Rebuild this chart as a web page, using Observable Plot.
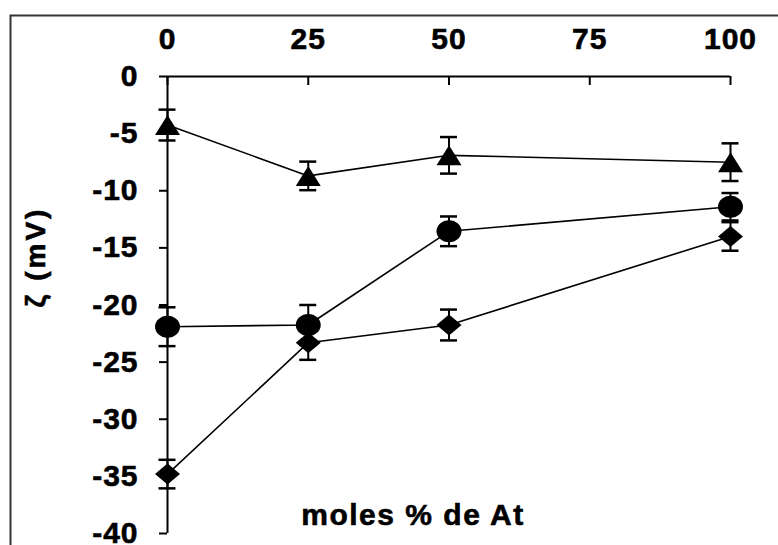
<!DOCTYPE html>
<html><head><meta charset="utf-8">
<script src="https://cdn.jsdelivr.net/npm/d3@7"></script>
<script src="https://cdn.jsdelivr.net/npm/@observablehq/plot@0.6"></script>
<style>body{margin:0;background:#fff}</style>
</head><body><div id="chart"></div>
<script>
const xValues = [0, 25, 50, 100];
const xTicks = [0, 25, 50, 75, 100];
const yTicks = [0, -5, -10, -15, -20, -25, -30, -35, -40];
const triangleValues = [-4.25, -8.7, -6.9, -7.5];
const triangleErrors = [1.35, 1.25, 1.6, 1.65];
const circleValues = [-21.9, -21.75, -13.55, -11.4];
const circleErrors = [1.7, 1.75, 1.3, 1.2];
const diamondValues = [-34.8, -23.3, -21.75, -14.0];
const diamondErrors = [1.25, 1.5, 1.35, 1.25];
const xLabel = "moles % de At";
const yLabel = "ζ (mV)";

const triangleSym = {draw(c) { c.moveTo(0, -10); c.lineTo(12.5, 10); c.lineTo(-12.5, 10); c.closePath(); }};
const diamondSym = {draw(c) { c.moveTo(0, -10.5); c.lineTo(12.5, 0); c.lineTo(0, 10.5); c.lineTo(-12.5, 0); c.closePath(); }};
const ellipseSym = {draw(c) {
  const rx = 12.5, ry = 11, k = 0.5523;
  c.moveTo(rx, 0);
  c.bezierCurveTo(rx, ry * k, rx * k, ry, 0, ry);
  c.bezierCurveTo(-rx * k, ry, -rx, ry * k, -rx, 0);
  c.bezierCurveTo(-rx, -ry * k, -rx * k, -ry, 0, -ry);
  c.bezierCurveTo(rx * k, -ry, rx, -ry * k, rx, 0);
  c.closePath();
}};

const build = (values, errors, symbol) => xValues.map((x, i) => ({x, y: values[i], e: errors[i], symbol}));
const series = [
  build(triangleValues, triangleErrors, triangleSym),
  build(circleValues, circleErrors, ellipseSym),
  build(diamondValues, diamondErrors, diamondSym)
];

const marks = [
  Plot.frame({stroke: "#333", strokeWidth: 2, insetLeft: -157, insetTop: -61, insetRight: -100, insetBottom: -100}),
  Plot.ruleY([0], {stroke: "black", strokeWidth: 2}),
  Plot.ruleX([0], {stroke: "black", strokeWidth: 2}),
  Plot.ruleX(xTicks, {x: d => d, y1: 0, y2: 0, insetBottom: -9, stroke: "black", strokeWidth: 2}),
  Plot.axisX(xTicks, {anchor: "top", tickSize: 0, tickPadding: 28, label: null, tickFormat: d => String(d), fontSize: 30, fontWeight: "bold", fill: "black"}),
  Plot.axisY(yTicks, {anchor: "left", tickSize: 8, tickPadding: 21, label: null, tickFormat: d => String(d), fontSize: 30, fontWeight: "bold", fill: "black", strokeWidth: 2, stroke: "black"}),
  Plot.text([xLabel], {frameAnchor: "bottom", dx: -36, dy: -18, lineAnchor: "middle", textAnchor: "middle", fontSize: 30, fontWeight: "bold", fill: "black"}),
  Plot.text([yLabel], {frameAnchor: "left", rotate: -90, dx: -131, dy: -48, lineAnchor: "middle", textAnchor: "middle", fontSize: 28, fontWeight: "bold", fill: "black"})
];
for (const s of series) {
  marks.push(Plot.line(s, {x: "x", y: "y", stroke: "black", strokeWidth: 1.6}));
  marks.push(Plot.ruleX(s, {x: "x", y1: d => d.y - d.e, y2: d => d.y + d.e, stroke: "black", strokeWidth: 2}));
  marks.push(Plot.ruleY(s, {y: d => d.y + d.e, x1: "x", x2: "x", insetLeft: -8.5, insetRight: -8.5, stroke: "black", strokeWidth: 2.5}));
  marks.push(Plot.ruleY(s, {y: d => d.y - d.e, x1: "x", x2: "x", insetLeft: -8.5, insetRight: -8.5, stroke: "black", strokeWidth: 2.5}));
  marks.push(Plot.dot(s, {x: "x", y: "y", symbol: s[0].symbol, fill: "black", stroke: "none", r: 12}));
}

const chart = Plot.plot({
  width: 778,
  height: 545,
  marginLeft: 167,
  marginRight: 48,
  marginTop: 76,
  marginBottom: 12,
  x: {domain: [0, 100], axis: null},
  y: {domain: [-40, 0], axis: null},
  style: {fontFamily: "'Liberation Sans', Arial, sans-serif", background: "white", color: "black", overflow: "hidden", letterSpacing: "1px"},
  marks
});
d3.select(chart).selectAll("text").each(function() {
  this.style.stroke = "black";
  this.style.strokeWidth = "0.6px";
  if (this.textContent === xLabel) this.style.letterSpacing = "1.5px";
  if (this.textContent === yLabel) this.style.letterSpacing = "3px";
});
document.getElementById("chart").appendChild(chart);
</script>
</body></html>
